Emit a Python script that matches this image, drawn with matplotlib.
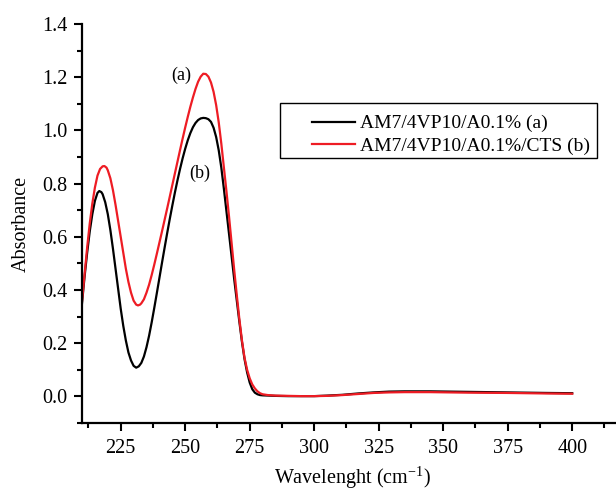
import matplotlib
matplotlib.use("Agg")
import matplotlib.pyplot as plt
from matplotlib.patches import Rectangle
from matplotlib.ticker import MultipleLocator, FormatStrFormatter

plt.rcParams['font.family'] = ['Liberation Serif', 'DejaVu Serif']
plt.rcParams['mathtext.default'] = 'regular'

# Series (a): AM7/4VP10/A0.1%
wl_a = [210, 211, 212, 213, 214, 215, 216, 216.7, 217.5, 218, 219, 220, 221,
        222, 223, 224, 225, 226, 227, 228, 229, 230, 231, 232, 233, 234, 235,
        236, 237, 238, 239, 240, 241, 242, 243, 244, 245, 246, 247, 248, 249,
        250, 251, 252, 253, 254, 255, 256, 257, 258, 259, 260, 261, 262, 263,
        264, 265, 266, 267, 268, 269, 270, 271, 272, 273, 274, 275, 276, 277,
        278, 279, 280, 285, 290, 295, 300, 305, 311, 317, 323, 329, 335, 345,
        360, 375, 390, 400]
abs_a = [0.35, 0.45, 0.54, 0.62, 0.685, 0.735, 0.765, 0.772, 0.768, 0.76,
         0.73, 0.685, 0.625, 0.555, 0.48, 0.405, 0.33, 0.265, 0.21, 0.165,
         0.135, 0.115, 0.108, 0.113, 0.126, 0.15, 0.185, 0.228, 0.278, 0.332,
         0.388, 0.445, 0.502, 0.558, 0.613, 0.666, 0.717, 0.766, 0.812, 0.855,
         0.895, 0.931, 0.963, 0.99, 1.012, 1.028, 1.039, 1.045, 1.047, 1.046,
         1.042, 1.032, 1.01, 0.975, 0.925, 0.86, 0.78, 0.695, 0.61, 0.525,
         0.44, 0.36, 0.28, 0.205, 0.14, 0.09, 0.052, 0.027, 0.014, 0.008,
         0.005, 0.004, 0.002, 0.001, 0.001, 0.001, 0.003, 0.006, 0.011,
         0.015, 0.018, 0.019, 0.019, 0.017, 0.015, 0.013, 0.012]

# Series (b): AM7/4VP10/A0.1%/CTS
wl_b = [210, 211, 212, 213, 214, 215, 216, 217, 218, 218.7, 219.5, 220, 221,
        222, 223, 224, 225, 226, 227, 228, 229, 230, 231, 231.7, 232.5, 233,
        234, 235, 236, 237, 238, 239, 240, 241, 242, 243, 244, 245, 246, 247,
        248, 249, 250, 251, 252, 253, 254, 255, 256, 257, 258, 259, 260, 261,
        262, 263, 264, 265, 266, 267, 268, 269, 270, 271, 272, 273, 274, 275,
        276, 277, 278, 279, 280, 282, 285, 290, 295, 300, 305, 311, 317, 323,
        329, 335, 345, 360, 375, 390, 400]
abs_b = [0.357, 0.46, 0.56, 0.65, 0.725, 0.785, 0.83, 0.855, 0.865, 0.866,
         0.86, 0.85, 0.82, 0.775, 0.72, 0.66, 0.60, 0.54, 0.48, 0.43, 0.39,
         0.36, 0.345, 0.342, 0.345, 0.35, 0.365, 0.39, 0.42, 0.456, 0.495,
         0.536, 0.578, 0.62, 0.663, 0.706, 0.75, 0.794, 0.838, 0.882, 0.926,
         0.969, 1.011, 1.051, 1.089, 1.124, 1.156, 1.183, 1.202, 1.213, 1.212,
         1.202, 1.18, 1.145, 1.095, 1.03, 0.95, 0.86, 0.77, 0.675, 0.575,
         0.475, 0.38, 0.29, 0.21, 0.145, 0.10, 0.068, 0.045, 0.03, 0.019,
         0.012, 0.008, 0.005, 0.003, 0.002, 0.001, 0.001, 0.002, 0.005,
         0.009, 0.013, 0.015, 0.016, 0.016, 0.014, 0.013, 0.011, 0.010]

labels = ["AM7/4VP10/A0.1% (a)", "AM7/4VP10/A0.1%/CTS (b)"]
annot = [("(a)", 248.3, 1.206), ("(b)", 255.8, 0.84)]
xticks = [225, 250, 275, 300, 325, 350, 375, 400, 425]

W, H = 616, 491
fig = plt.figure(figsize=(W / 100, H / 100), dpi=100)
ax = fig.add_axes([82 / W, (H - 423) / H, 541.8 / W, 399 / H])

ax.plot(wl_a, abs_a, color='black', lw=1.6, label=labels[0])
ax.plot(wl_b, abs_b, color='#ee1c24', lw=1.6, label=labels[1])

for txt, x, y in annot:
    ax.text(x, y, txt, fontsize=13, ha='center', va='center')

ax.set_xticks(xticks)
ax.xaxis.set_minor_locator(MultipleLocator(12.5))
ax.yaxis.set_major_locator(MultipleLocator(0.2))
ax.yaxis.set_minor_locator(MultipleLocator(0.1))
ax.set_xlim(210, 420)
ax.set_ylim(-0.1, 1.4)

for s in ['top', 'right']:
    ax.spines[s].set_visible(False)
for s in ['left', 'bottom']:
    ax.spines[s].set_linewidth(1.6)

ax.tick_params(axis='both', which='major', direction='out', length=5.5,
               width=1.5, labelsize=14.5)
ax.tick_params(axis='both', which='minor', direction='out', length=3.5,
               width=1.5)
ax.tick_params(axis='y', which='major', pad=5)
ax.tick_params(axis='x', which='major', pad=6)
ax.yaxis.set_major_formatter(FormatStrFormatter('%.1f'))

ax.set_ylabel("Absorbance", fontsize=14.5, labelpad=8)
ax.set_xlabel("Wavelenght (cm$^{-1}$)", fontsize=14.5, labelpad=5)

leg = ax.legend(loc='upper left', frameon=False, fontsize=14,
                bbox_to_anchor=(302 / W, 1 - 105 / H),
                bbox_transform=fig.transFigure, borderpad=0,
                handlelength=2.2, handletextpad=0.26, labelspacing=0.27)
fig.patches.append(Rectangle((280 / W, 1 - 158 / H), 317 / W, 55 / H,
                             transform=fig.transFigure, fill=False,
                             edgecolor='black', lw=1.0))

fig.savefig("out.png", dpi=100)
